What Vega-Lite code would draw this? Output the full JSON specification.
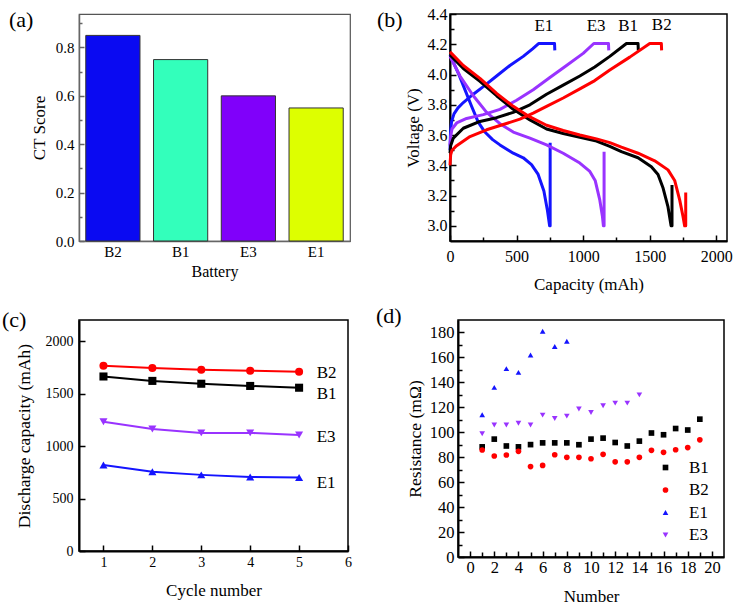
{
  "$schema": "https://vega.github.io/schema/vega-lite/v6.json",
  "background": "white",
  "padding": {"left": 1, "top": 5, "right": 0, "bottom": 0},
  "columns": 1,
  "align": "none",
  "spacing": 11,
  "resolve": {"scale": {"color": "independent", "shape": "independent"}, "legend": {"color": "independent", "shape": "independent"}},
  "config": {
    "font": "Liberation Serif",
    "view": {"stroke": "#000", "strokeWidth": 1.5},
    "axis": {"labelFont": "Liberation Serif", "titleFont": "Liberation Serif", "titleFontWeight": "normal", "labelColor": "#000", "titleColor": "#000", "domainColor": "#000", "domainWidth": 2, "tickColor": "#000", "tickWidth": 1.5, "grid": false, "labelFlush": false, "labelOverlap": false},
    "title": {"font": "Liberation Serif", "fontWeight": "normal", "fontSize": 22, "anchor": "start", "frame": "group", "offset": 0, "baseline": "alphabetic", "color": "#000"},
    "legend": {"labelFont": "Liberation Serif", "labelColor": "#000"}
  },
  "datasets": {
    "bars": [
      {"battery": "B2", "score": 0.85},
      {"battery": "B1", "score": 0.75},
      {"battery": "E3", "score": 0.6},
      {"battery": "E1", "score": 0.55}
    ],
    "curves": [
      {"b":"E1","p":"c","i":0,"mah":0,"v":3.50},{"b":"E1","p":"c","i":1,"mah":4,"v":3.62},{"b":"E1","p":"c","i":2,"mah":12,"v":3.69},{"b":"E1","p":"c","i":3,"mah":30,"v":3.74},{"b":"E1","p":"c","i":4,"mah":60,"v":3.78},{"b":"E1","p":"c","i":5,"mah":100,"v":3.815},{"b":"E1","p":"c","i":6,"mah":175,"v":3.87},{"b":"E1","p":"c","i":7,"mah":250,"v":3.92},{"b":"E1","p":"c","i":8,"mah":350,"v":3.99},{"b":"E1","p":"c","i":9,"mah":450,"v":4.06},{"b":"E1","p":"c","i":10,"mah":550,"v":4.12},{"b":"E1","p":"c","i":11,"mah":620,"v":4.17},{"b":"E1","p":"c","i":12,"mah":665,"v":4.205},{"b":"E1","p":"c","i":13,"mah":785,"v":4.205},{"b":"E1","p":"c","i":14,"mah":787,"v":4.16},
      {"b":"E1","p":"d","i":0,"mah":0,"v":4.13},{"b":"E1","p":"d","i":1,"mah":62,"v":4.01},{"b":"E1","p":"d","i":2,"mah":112,"v":3.90},{"b":"E1","p":"d","i":3,"mah":162,"v":3.79},{"b":"E1","p":"d","i":4,"mah":212,"v":3.685},{"b":"E1","p":"d","i":5,"mah":262,"v":3.62},{"b":"E1","p":"d","i":6,"mah":320,"v":3.57},{"b":"E1","p":"d","i":7,"mah":375,"v":3.535},{"b":"E1","p":"d","i":8,"mah":475,"v":3.48},{"b":"E1","p":"d","i":9,"mah":550,"v":3.45},{"b":"E1","p":"d","i":10,"mah":612,"v":3.405},{"b":"E1","p":"d","i":11,"mah":662,"v":3.34},{"b":"E1","p":"d","i":12,"mah":705,"v":3.23},{"b":"E1","p":"d","i":13,"mah":732,"v":3.10},{"b":"E1","p":"d","i":14,"mah":748,"v":3.0},{"b":"E1","p":"d","i":15,"mah":752,"v":3.0},{"b":"E1","p":"d","i":16,"mah":752,"v":3.55},
      {"b":"E3","p":"c","i":0,"mah":0,"v":3.53},{"b":"E3","p":"c","i":1,"mah":5,"v":3.59},{"b":"E3","p":"c","i":2,"mah":15,"v":3.64},{"b":"E3","p":"c","i":3,"mah":50,"v":3.68},{"b":"E3","p":"c","i":4,"mah":125,"v":3.71},{"b":"E3","p":"c","i":5,"mah":250,"v":3.735},{"b":"E3","p":"c","i":6,"mah":375,"v":3.77},{"b":"E3","p":"c","i":7,"mah":500,"v":3.83},{"b":"E3","p":"c","i":8,"mah":625,"v":3.90},{"b":"E3","p":"c","i":9,"mah":750,"v":3.98},{"b":"E3","p":"c","i":10,"mah":875,"v":4.06},{"b":"E3","p":"c","i":11,"mah":1000,"v":4.14},{"b":"E3","p":"c","i":12,"mah":1080,"v":4.205},{"b":"E3","p":"c","i":13,"mah":1190,"v":4.205},{"b":"E3","p":"c","i":14,"mah":1192,"v":4.16},
      {"b":"E3","p":"d","i":0,"mah":0,"v":4.12},{"b":"E3","p":"d","i":1,"mah":75,"v":3.99},{"b":"E3","p":"d","i":2,"mah":175,"v":3.86},{"b":"E3","p":"d","i":3,"mah":275,"v":3.75},{"b":"E3","p":"d","i":4,"mah":375,"v":3.675},{"b":"E3","p":"d","i":5,"mah":475,"v":3.62},{"b":"E3","p":"d","i":6,"mah":600,"v":3.58},{"b":"E3","p":"d","i":7,"mah":725,"v":3.535},{"b":"E3","p":"d","i":8,"mah":850,"v":3.48},{"b":"E3","p":"d","i":9,"mah":975,"v":3.415},{"b":"E3","p":"d","i":10,"mah":1050,"v":3.36},{"b":"E3","p":"d","i":11,"mah":1090,"v":3.30},{"b":"E3","p":"d","i":12,"mah":1125,"v":3.17},{"b":"E3","p":"d","i":13,"mah":1145,"v":3.06},{"b":"E3","p":"d","i":14,"mah":1152,"v":3.0},{"b":"E3","p":"d","i":15,"mah":1157,"v":3.0},{"b":"E3","p":"d","i":16,"mah":1157,"v":3.49},
      {"b":"B1","p":"c","i":0,"mah":0,"v":3.48},{"b":"B1","p":"c","i":1,"mah":5,"v":3.53},{"b":"B1","p":"c","i":2,"mah":25,"v":3.58},{"b":"B1","p":"c","i":3,"mah":100,"v":3.645},{"b":"B1","p":"c","i":4,"mah":225,"v":3.69},{"b":"B1","p":"c","i":5,"mah":350,"v":3.715},{"b":"B1","p":"c","i":6,"mah":475,"v":3.75},{"b":"B1","p":"c","i":7,"mah":600,"v":3.80},{"b":"B1","p":"c","i":8,"mah":725,"v":3.87},{"b":"B1","p":"c","i":9,"mah":850,"v":3.93},{"b":"B1","p":"c","i":10,"mah":975,"v":3.99},{"b":"B1","p":"c","i":11,"mah":1087,"v":4.05},{"b":"B1","p":"c","i":12,"mah":1200,"v":4.12},{"b":"B1","p":"c","i":13,"mah":1325,"v":4.205},{"b":"B1","p":"c","i":14,"mah":1412,"v":4.205},{"b":"B1","p":"c","i":15,"mah":1414,"v":4.16},
      {"b":"B1","p":"d","i":0,"mah":0,"v":4.13},{"b":"B1","p":"d","i":1,"mah":100,"v":4.04},{"b":"B1","p":"d","i":2,"mah":225,"v":3.955},{"b":"B1","p":"d","i":3,"mah":350,"v":3.86},{"b":"B1","p":"d","i":4,"mah":475,"v":3.77},{"b":"B1","p":"d","i":5,"mah":600,"v":3.70},{"b":"B1","p":"d","i":6,"mah":725,"v":3.64},{"b":"B1","p":"d","i":7,"mah":850,"v":3.61},{"b":"B1","p":"d","i":8,"mah":975,"v":3.585},{"b":"B1","p":"d","i":9,"mah":1100,"v":3.56},{"b":"B1","p":"d","i":10,"mah":1200,"v":3.525},{"b":"B1","p":"d","i":11,"mah":1287,"v":3.49},{"b":"B1","p":"d","i":12,"mah":1412,"v":3.45},{"b":"B1","p":"d","i":13,"mah":1512,"v":3.39},{"b":"B1","p":"d","i":14,"mah":1562,"v":3.34},{"b":"B1","p":"d","i":15,"mah":1600,"v":3.25},{"b":"B1","p":"d","i":16,"mah":1637,"v":3.125},{"b":"B1","p":"d","i":17,"mah":1660,"v":3.0},{"b":"B1","p":"d","i":18,"mah":1667,"v":3.0},{"b":"B1","p":"d","i":19,"mah":1667,"v":3.27},
      {"b":"B2","p":"c","i":0,"mah":0,"v":3.40},{"b":"B2","p":"c","i":1,"mah":5,"v":3.47},{"b":"B2","p":"c","i":2,"mah":15,"v":3.50},{"b":"B2","p":"c","i":3,"mah":50,"v":3.53},{"b":"B2","p":"c","i":4,"mah":150,"v":3.59},{"b":"B2","p":"c","i":5,"mah":275,"v":3.635},{"b":"B2","p":"c","i":6,"mah":400,"v":3.67},{"b":"B2","p":"c","i":7,"mah":525,"v":3.705},{"b":"B2","p":"c","i":8,"mah":625,"v":3.745},{"b":"B2","p":"c","i":9,"mah":725,"v":3.79},{"b":"B2","p":"c","i":10,"mah":850,"v":3.845},{"b":"B2","p":"c","i":11,"mah":975,"v":3.905},{"b":"B2","p":"c","i":12,"mah":1087,"v":3.96},{"b":"B2","p":"c","i":13,"mah":1200,"v":4.03},{"b":"B2","p":"c","i":14,"mah":1350,"v":4.115},{"b":"B2","p":"c","i":15,"mah":1500,"v":4.205},{"b":"B2","p":"c","i":16,"mah":1587,"v":4.205},{"b":"B2","p":"c","i":17,"mah":1589,"v":4.16},
      {"b":"B2","p":"d","i":0,"mah":0,"v":4.15},{"b":"B2","p":"d","i":1,"mah":100,"v":4.06},{"b":"B2","p":"d","i":2,"mah":225,"v":3.975},{"b":"B2","p":"d","i":3,"mah":350,"v":3.875},{"b":"B2","p":"d","i":4,"mah":475,"v":3.79},{"b":"B2","p":"d","i":5,"mah":600,"v":3.72},{"b":"B2","p":"d","i":6,"mah":725,"v":3.665},{"b":"B2","p":"d","i":7,"mah":850,"v":3.63},{"b":"B2","p":"d","i":8,"mah":975,"v":3.60},{"b":"B2","p":"d","i":9,"mah":1100,"v":3.575},{"b":"B2","p":"d","i":10,"mah":1200,"v":3.55},{"b":"B2","p":"d","i":11,"mah":1287,"v":3.52},{"b":"B2","p":"d","i":12,"mah":1412,"v":3.48},{"b":"B2","p":"d","i":13,"mah":1537,"v":3.43},{"b":"B2","p":"d","i":14,"mah":1637,"v":3.37},{"b":"B2","p":"d","i":15,"mah":1687,"v":3.30},{"b":"B2","p":"d","i":16,"mah":1725,"v":3.17},{"b":"B2","p":"d","i":17,"mah":1750,"v":3.06},{"b":"B2","p":"d","i":18,"mah":1762,"v":3.0},{"b":"B2","p":"d","i":19,"mah":1770,"v":3.0},{"b":"B2","p":"d","i":20,"mah":1770,"v":3.22}
    ],
    "curvelabels": [
      {"label": "E1", "mah": 705, "v": 4.32},
      {"label": "E3", "mah": 1097, "v": 4.32},
      {"label": "B1", "mah": 1337, "v": 4.32},
      {"label": "B2", "mah": 1590, "v": 4.325}
    ],
    "cycles": [
      {"b":"B2","cycle":1,"cap":1765},{"b":"B2","cycle":2,"cap":1742},{"b":"B2","cycle":3,"cap":1727},{"b":"B2","cycle":4,"cap":1717},{"b":"B2","cycle":5,"cap":1707},
      {"b":"B1","cycle":1,"cap":1662},{"b":"B1","cycle":2,"cap":1620},{"b":"B1","cycle":3,"cap":1593},{"b":"B1","cycle":4,"cap":1572},{"b":"B1","cycle":5,"cap":1555},
      {"b":"E3","cycle":1,"cap":1232},{"b":"E3","cycle":2,"cap":1162},{"b":"E3","cycle":3,"cap":1125},{"b":"E3","cycle":4,"cap":1125},{"b":"E3","cycle":5,"cap":1105},
      {"b":"E1","cycle":1,"cap":820},{"b":"E1","cycle":2,"cap":755},{"b":"E1","cycle":3,"cap":725},{"b":"E1","cycle":4,"cap":705},{"b":"E1","cycle":5,"cap":700}
    ],
    "cyclelabels": [
      {"label": "B2", "cycle": 5.36, "cap": 1697},
      {"label": "B1", "cycle": 5.36, "cap": 1500},
      {"label": "E3", "cycle": 5.36, "cap": 1086},
      {"label": "E1", "cycle": 5.36, "cap": 648}
    ],
    "res": [
      {"b":"B1","n":1,"r":88.3},{"b":"B1","n":2,"r":94.5},{"b":"B1","n":3,"r":89},{"b":"B1","n":4,"r":88.3},{"b":"B1","n":5,"r":90.1},{"b":"B1","n":6,"r":91.5},{"b":"B1","n":7,"r":91.5},{"b":"B1","n":8,"r":91.5},{"b":"B1","n":9,"r":90},{"b":"B1","n":10,"r":94.5},{"b":"B1","n":11,"r":95.3},{"b":"B1","n":12,"r":91.8},{"b":"B1","n":13,"r":89},{"b":"B1","n":14,"r":92.9},{"b":"B1","n":15,"r":99.4},{"b":"B1","n":16,"r":98},{"b":"B1","n":17,"r":103},{"b":"B1","n":18,"r":101.8},{"b":"B1","n":19,"r":110.5},
      {"b":"B2","n":1,"r":85.8},{"b":"B2","n":2,"r":81},{"b":"B2","n":3,"r":81.8},{"b":"B2","n":4,"r":84.7},{"b":"B2","n":5,"r":72.5},{"b":"B2","n":6,"r":73.4},{"b":"B2","n":7,"r":82},{"b":"B2","n":8,"r":79.9},{"b":"B2","n":9,"r":79.9},{"b":"B2","n":10,"r":78.8},{"b":"B2","n":11,"r":82.3},{"b":"B2","n":12,"r":76.3},{"b":"B2","n":13,"r":76.3},{"b":"B2","n":14,"r":79.9},{"b":"B2","n":15,"r":85.5},{"b":"B2","n":16,"r":83.9},{"b":"B2","n":17,"r":86},{"b":"B2","n":18,"r":87.7},{"b":"B2","n":19,"r":93.9},
      {"b":"E1","n":1,"r":114},{"b":"E1","n":2,"r":136},{"b":"E1","n":3,"r":151},{"b":"E1","n":4,"r":148},{"b":"E1","n":5,"r":162},{"b":"E1","n":6,"r":181},{"b":"E1","n":7,"r":168.7},{"b":"E1","n":8,"r":173},
      {"b":"E3","n":1,"r":98.8},{"b":"E3","n":2,"r":105.8},{"b":"E3","n":3,"r":105.8},{"b":"E3","n":4,"r":107.2},{"b":"E3","n":5,"r":105.8},{"b":"E3","n":6,"r":113.7},{"b":"E3","n":7,"r":111},{"b":"E3","n":8,"r":112.9},{"b":"E3","n":9,"r":118.6},{"b":"E3","n":10,"r":115.9},{"b":"E3","n":11,"r":121.3},{"b":"E3","n":12,"r":123.4},{"b":"E3","n":13,"r":123.4},{"b":"E3","n":14,"r":130}
    ]
  },
  "concat": [
    {
      "bounds": "flush",
      "spacing": 100,
      "resolve": {"scale": {"color": "independent", "shape": "independent"}, "legend": {"color": "independent", "shape": "independent"}},
      "hconcat": [
        {
          "width": 271,
          "height": 227,
          "title": {"text": "(a)", "dx": -70, "dy": 21.5},
          "view": {"stroke": "#555", "strokeWidth": 1.2},
          "data": {"name": "bars"},
          "mark": {"type": "bar", "stroke": "#333", "strokeWidth": 1},
          "encoding": {
            "x": {"field": "battery", "type": "nominal", "sort": null,
                  "scale": {"paddingInner": 0.2, "paddingOuter": 0.1},
                  "axis": {"title": "Battery", "labelAngle": 0, "labelFontSize": 15, "titleFontSize": 16, "tickSize": -4, "labelPadding": 7, "titlePadding": 4, "domainColor": "#666", "tickColor": "#666", "domainWidth": 1.5, "labelOverlap": false}},
            "y": {"field": "score", "type": "quantitative",
                  "scale": {"domain": [0, 0.9385], "nice": false, "zero": true},
                  "axis": {"title": "CT Score", "values": [0, 0.1, 0.2, 0.3, 0.4, 0.5, 0.6, 0.7, 0.8, 0.9],
                           "labelExpr": "round(datum.value*10) % 2 === 0 ? format(datum.value, '.1f') : ''",
                           "labelFontSize": {"condition": {"test": "round(datum.value*10) % 2 === 0", "value": 15}, "value": 0},
                           "tickSize": {"condition": {"test": "round(datum.value*10) % 2 === 0", "value": -5}, "value": -3},
                           "labelPadding": 10, "titleFontSize": 17, "titlePadding": 7, "labelOverlap": false,
                           "domainColor": "#666", "tickColor": "#666", "domainWidth": 1.5}},
            "color": {"field": "battery", "type": "nominal",
                      "scale": {"domain": ["B2", "B1", "E3", "E1"], "range": ["#0a0af2", "#33ffbb", "#8000fa", "#ddff00"]},
                      "legend": null}
          }
        },
        {
          "width": 277,
          "height": 227,
          "title": {"text": "(b)", "dx": -73, "dy": 30},
          "layer": [
            {
              "data": {"name": "curves"},
              "mark": {"type": "line", "strokeWidth": 3, "strokeJoin": "round"},
              "encoding": {
                "x": {"field": "mah", "type": "quantitative",
                      "scale": {"domain": [0, 2080], "nice": false},
                      "axis": {"title": "Capacity (mAh)", "values": [0, 250, 500, 750, 1000, 1250, 1500, 1750, 2000],
                               "labelExpr": "datum.value % 500 === 0 ? datum.value : ''",
                               "labelFontSize": {"condition": {"test": "datum.value % 500 === 0", "value": 16}, "value": 0},
                               "tickSize": {"condition": {"test": "datum.value % 500 === 0", "value": -6}, "value": -4},
                               "labelPadding": 13, "titleFontSize": 17, "titlePadding": 12, "labelOverlap": false}},
                "y": {"field": "v", "type": "quantitative",
                      "scale": {"domain": [2.9, 4.4], "nice": false, "zero": false},
                      "axis": {"title": "Voltage (V)", "values": [3.0, 3.1, 3.2, 3.3, 3.4, 3.5, 3.6, 3.7, 3.8, 3.9, 4.0, 4.1, 4.2, 4.3, 4.4],
                               "labelExpr": "round(datum.value*10) % 2 === 0 ? format(datum.value, '.1f') : ''",
                               "labelFontSize": {"condition": {"test": "round(datum.value*10) % 2 === 0", "value": 16}, "value": 0},
                               "tickSize": {"condition": {"test": "round(datum.value*10) % 2 === 0", "value": -6}, "value": -4},
                               "labelPadding": 9, "titleFontSize": 17, "titlePadding": 5, "labelOverlap": false}},
                "color": {"field": "b", "type": "nominal",
                          "scale": {"domain": ["B1", "B2", "E1", "E3"], "range": ["#000000", "#ff0000", "#1414ff", "#9933ff"]},
                          "legend": null},
                "detail": {"field": "p"},
                "order": {"field": "i", "type": "quantitative"}
              }
            },
            {
              "data": {"name": "curvelabels"},
              "mark": {"type": "text", "fontSize": 17, "font": "Liberation Serif", "baseline": "middle", "align": "center", "color": "#000"},
              "encoding": {
                "x": {"field": "mah", "type": "quantitative",
                      "axis": {"title": "Capacity (mAh)", "values": [0, 250, 500, 750, 1000, 1250, 1500, 1750, 2000],
                               "labelExpr": "datum.value % 500 === 0 ? datum.value : ''",
                               "labelFontSize": {"condition": {"test": "datum.value % 500 === 0", "value": 16}, "value": 0},
                               "tickSize": {"condition": {"test": "datum.value % 500 === 0", "value": -6}, "value": -4},
                               "labelPadding": 13, "titleFontSize": 17, "titlePadding": 12, "labelOverlap": false}},
                "y": {"field": "v", "type": "quantitative",
                      "axis": {"title": "Voltage (V)", "values": [3.0, 3.1, 3.2, 3.3, 3.4, 3.5, 3.6, 3.7, 3.8, 3.9, 4.0, 4.1, 4.2, 4.3, 4.4],
                               "labelExpr": "round(datum.value*10) % 2 === 0 ? format(datum.value, '.1f') : ''",
                               "labelFontSize": {"condition": {"test": "round(datum.value*10) % 2 === 0", "value": 16}, "value": 0},
                               "tickSize": {"condition": {"test": "round(datum.value*10) % 2 === 0", "value": -6}, "value": -4},
                               "labelPadding": 9, "titleFontSize": 17, "titlePadding": 5, "labelOverlap": false}},
                "text": {"field": "label"}
              }
            }
          ]
        }
      ]
    },
    {
      "bounds": "flush",
      "spacing": 110,
      "resolve": {"scale": {"color": "independent", "shape": "independent"}, "legend": {"color": "independent", "shape": "independent"}},
      "hconcat": [
        {
          "width": 269,
          "height": 231,
          "title": {"text": "(c)", "dx": -77, "dy": 16},
          "layer": [
            {
              "data": {"name": "cycles"},
              "mark": {"type": "line", "strokeWidth": 2},
              "encoding": {
                "x": {"field": "cycle", "type": "quantitative",
                      "scale": {"domain": [0.5, 6], "nice": false, "zero": false},
                      "axis": {"title": "Cycle number", "values": [1, 1.5, 2, 2.5, 3, 3.5, 4, 4.5, 5, 5.5, 6],
                               "labelExpr": "datum.value % 1 === 0 ? datum.value : ''",
                               "labelFontSize": {"condition": {"test": "datum.value % 1 === 0", "value": 14}, "value": 0},
                               "tickSize": {"condition": {"test": "datum.value % 1 === 0", "value": -6}, "value": -4},
                               "labelPadding": 10, "titleFontSize": 17, "titlePadding": 13, "labelOverlap": false}},
                "y": {"field": "cap", "type": "quantitative",
                      "scale": {"domain": [0, 2200], "nice": false},
                      "axis": {"title": "Discharge capacity (mAh)", "values": [0, 250, 500, 750, 1000, 1250, 1500, 1750, 2000],
                               "labelExpr": "datum.value % 500 === 0 ? datum.value : ''",
                               "labelFontSize": {"condition": {"test": "datum.value % 500 === 0", "value": 14}, "value": 0},
                               "tickSize": {"condition": {"test": "datum.value % 500 === 0", "value": -6}, "value": -4},
                               "labelPadding": 12, "titleFontSize": 17.5, "titlePadding": 12, "labelOverlap": false}},
                "color": {"field": "b", "type": "nominal",
                          "scale": {"domain": ["B1", "B2", "E1", "E3"], "range": ["#000000", "#ff0000", "#1414ff", "#9933ff"]},
                          "legend": null}
              }
            },
            {
              "data": {"name": "cycles"},
              "mark": {"type": "point", "filled": true, "size": 65, "opacity": 1},
              "encoding": {
                "x": {"field": "cycle", "type": "quantitative"},
                "y": {"field": "cap", "type": "quantitative"},
                "color": {"field": "b", "type": "nominal", "legend": null},
                "shape": {"field": "b", "type": "nominal",
                          "scale": {"domain": ["B1", "B2", "E1", "E3"], "range": ["square", "circle", "triangle-up", "triangle-down"]},
                          "legend": null}
              }
            },
            {
              "data": {"name": "cyclelabels"},
              "mark": {"type": "text", "fontSize": 17, "font": "Liberation Serif", "baseline": "middle", "align": "left", "color": "#000"},
              "encoding": {
                "x": {"field": "cycle", "type": "quantitative"},
                "y": {"field": "cap", "type": "quantitative"},
                "text": {"field": "label"}
              }
            }
          ]
        },
        {
          "width": 266,
          "height": 237,
          "title": {"text": "(d)", "dx": -82, "dy": 12},
          "data": {"name": "res"},
          "mark": {"type": "point", "filled": true, "size": 32, "opacity": 1},
          "encoding": {
            "x": {"field": "n", "type": "quantitative",
                  "scale": {"domain": [-1, 21], "nice": false, "zero": false},
                  "axis": {"title": "Number", "values": [0, 1, 2, 3, 4, 5, 6, 7, 8, 9, 10, 11, 12, 13, 14, 15, 16, 17, 18, 19, 20],
                           "labelExpr": "datum.value % 2 === 0 ? datum.value : ''",
                           "labelFontSize": {"condition": {"test": "datum.value % 2 === 0", "value": 16.5}, "value": 0},
                           "tickSize": {"condition": {"test": "datum.value % 2 === 0", "value": -6}, "value": -5},
                           "labelPadding": 8, "titleFontSize": 17, "titlePadding": 13, "labelOverlap": false}},
            "y": {"field": "r", "type": "quantitative",
                  "scale": {"domain": [0, 190], "nice": false},
                  "axis": {"title": "Resistance (mΩ)", "values": [0, 10, 20, 30, 40, 50, 60, 70, 80, 90, 100, 110, 120, 130, 140, 150, 160, 170, 180],
                           "labelExpr": "datum.value % 20 === 0 ? datum.value : ''",
                           "labelFontSize": {"condition": {"test": "datum.value % 20 === 0", "value": 16.5}, "value": 0},
                           "tickSize": {"condition": {"test": "datum.value % 20 === 0", "value": -6}, "value": -4},
                           "labelPadding": 10, "titleFontSize": 17.5, "titlePadding": 5, "labelOverlap": false}},
            "color": {"field": "b", "type": "nominal",
                      "scale": {"domain": ["B1", "B2", "E1", "E3"], "range": ["#000000", "#ff0000", "#1414ff", "#9933ff"]},
                      "legend": {"orient": "none", "legendX": 199, "legendY": 139, "title": null, "labelFontSize": 17, "symbolSize": 32, "rowPadding": 4.5, "labelOffset": 15}},
            "shape": {"field": "b", "type": "nominal",
                      "scale": {"domain": ["B1", "B2", "E1", "E3"], "range": ["square", "circle", "triangle-up", "triangle-down"]},
                      "legend": {"orient": "none", "legendX": 199, "legendY": 139, "title": null, "labelFontSize": 17, "symbolSize": 32, "rowPadding": 4.5, "labelOffset": 15}}
          }
        }
      ]
    }
  ]
}
